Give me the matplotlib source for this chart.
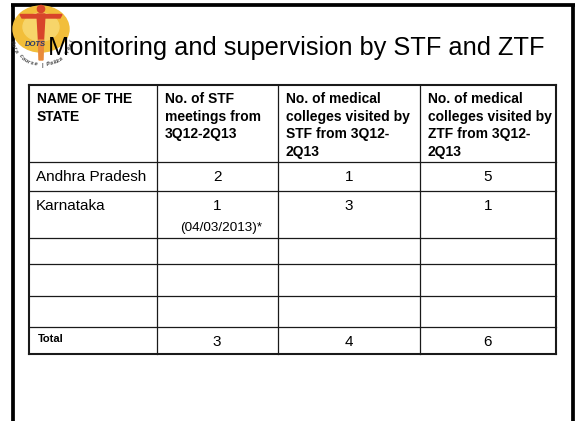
import numpy as np
import matplotlib.pyplot as plt
from matplotlib.patches import Ellipse, Circle, Polygon

plt.rcParams['font.family'] = ['Liberation Sans', 'DejaVu Sans']

# contenido de la tabla
title = "Monitoring and supervision by STF and ZTF"
headers = [["NAME OF THE", "STATE"],
           ["No. of STF", "meetings from", "3Q12-2Q13"],
           ["No. of medical", "colleges visited by", "STF from 3Q12-", "2Q13"],
           ["No. of medical", "colleges visited by", "ZTF from 3Q12-", "2Q13"]]
states = ["Andhra Pradesh", "Karnataka", "", "", ""]
stf_meetings = ["2", "1", "", "", ""]
stf_notes = ["", "(04/03/2013)*", "", "", ""]
stf_visits = ["1", "3", "", "", ""]
ztf_visits = ["5", "1", "", "", ""]
total_label = "Total"
totals = ["3", "4", "6"]
logo_text = "Pura course | Pakka ilaaj"

W, H = 577, 421
fig = plt.figure(figsize=(W / 100, H / 100), dpi=100)
ax = fig.add_axes([0, 0, 1, 1])
ax.set_xlim(0, W)
ax.set_ylim(H, 0)
ax.axis('off')

# marco de la diapositiva
ax.plot([12.8, 12.8], [5, H + 5], color='black', lw=2.7, solid_capstyle='butt')
ax.plot([573, 573], [5, H + 5], color='black', lw=2.7, solid_capstyle='butt')
ax.plot([11, 575], [5, 5], color='black', lw=2.7, solid_capstyle='butt')

# logo DOTS (aproximado)
ax.add_patch(Ellipse((41, 29), 56, 46, color='#F2BE3A', zorder=2))
ax.add_patch(Ellipse((41, 27), 36, 28, color='#F7D56A', zorder=2))
ax.add_patch(Circle((41, 9), 3.6, color='#D8452A', zorder=3))
ax.add_patch(Polygon([(20, 14.5), (62, 14.5), (60, 18), (22, 18)], color='#D8452A', zorder=3))
ax.add_patch(Polygon([(37, 14), (45, 14), (43.5, 40), (38.5, 40)], color='#D8452A', zorder=3))
ax.add_patch(Polygon([(38.5, 40), (43.5, 40), (43, 60), (39, 60)], color='#E98A3A', zorder=3))
ax.text(46, 44.5, "DOTS", fontsize=5.5, fontweight='bold', style='italic',
        color='#2B3A67', ha='right', va='center', zorder=4)
ang = np.linspace(165, 15, len(logo_text))
for ch, a in zip(logo_text, ang):
    t = np.deg2rad(a)
    ax.text(42 + 31 * np.cos(t), 34 + 31 * np.sin(t), ch, fontsize=3.8,
            fontweight='bold', style='italic', color='#333333',
            rotation=90 - a, ha='center', va='center', zorder=4)

# título
ax.text(296.5, 55, title, fontsize=18.3, ha='center', va='baseline', zorder=5)

# rejilla de la tabla
col_x = [29, 156.7, 277.7, 419.6, 556]
row_y = [85, 162.3, 191, 237.7, 264.3, 295.7, 327, 354]
for i, y in enumerate(row_y):
    outer = i in (0, len(row_y) - 1)
    ax.plot([col_x[0], col_x[-1]], [y, y], color='#1a1a1a',
            lw=1.5 if outer else 0.9, solid_capstyle='projecting')
for i, x in enumerate(col_x):
    outer = i in (0, len(col_x) - 1)
    ax.plot([x, x], [row_y[0], row_y[-1]], color='#1a1a1a',
            lw=1.5 if outer else 0.9, solid_capstyle='projecting')

# encabezados
for c, lines in enumerate(headers):
    for k, line in enumerate(lines):
        ax.text(col_x[c] + 8, row_y[0] + 7 + k * 17.7, line, fontsize=10,
                fontweight='bold', ha='left', va='top')

# filas
centers = [(col_x[c] + col_x[c + 1]) / 2 for c in range(1, 4)]
for r in range(len(states)):
    top = row_y[r + 1] + 7.5
    ax.text(col_x[0] + 7, top, states[r], fontsize=11, ha='left', va='top')
    for c, col in enumerate([stf_meetings, stf_visits, ztf_visits]):
        ax.text(centers[c], top, col[r], fontsize=11, ha='center', va='top')
    if stf_notes[r]:
        ax.text(centers[0] + 4, top + 23.5, stf_notes[r], fontsize=9.7,
                ha='center', va='top')

# fila total
ty = (row_y[-2] + row_y[-1]) / 2
ax.text(col_x[0] + 9, ty - 1, total_label, fontsize=8, fontweight='bold',
        ha='left', va='center')
for c, v in enumerate(totals):
    ax.text(centers[c], ty + 1, v, fontsize=11, ha='center', va='center')

fig.savefig('out.png', dpi=100)
